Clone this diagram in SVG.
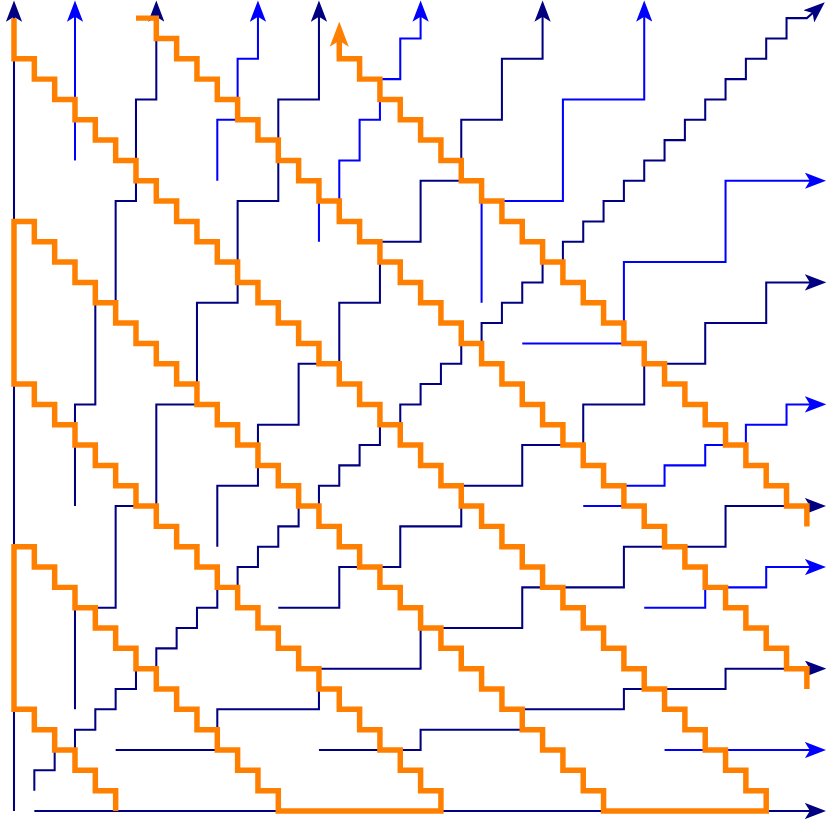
<svg xmlns="http://www.w3.org/2000/svg" width="827" height="824" viewBox="0 0 827 824">
<style>
.n{fill:none;stroke:#000080;stroke-width:0.1}
.b{fill:none;stroke:#0000ff;stroke-width:0.1}
.o{fill:none;stroke:#ff8000;stroke-width:0.27;stroke-linejoin:miter}
.n .a{marker-end:url(#an)}
.b .a{marker-end:url(#ab)}
.o .a{marker-end:url(#ao)}
</style>
<defs>
<marker id="an" viewBox="0 0 21 16" markerWidth="10.5" markerHeight="8" refX="14" refY="8" orient="auto"><path d="M0 0L21 8L0 16L5 8Z" fill="#000080"/></marker>
<marker id="ab" viewBox="0 0 21 16" markerWidth="10.5" markerHeight="8" refX="14" refY="8" orient="auto"><path d="M0 0L21 8L0 16L5 8Z" fill="#0000ff"/></marker>
<marker id="ao" viewBox="0 0 21 16" markerWidth="4.55" markerHeight="3.47" refX="12" refY="8" orient="auto"><path d="M0 0L21 8L0 16L5 8Z" fill="#ff8000"/></marker>
</defs>
<g transform="matrix(20.33 0 0 -20.33 14 811)">
<g id="navy-paths" class="n">
<path class="a" d="M0 0V39.52"/>
<path class="a" d="M1 0H39.6"/>
<path class="a" d="M3 15V20H4V25H5V30H6V35H7V39.52"/>
<path class="a" d="M15 3H20V4H25V5H30V6H35V7H39.6"/>
<path class="a" d="M3 5V10H5V15H7V20H9V25H11V30H13V35H15V39.52"/>
<path class="a" d="M5 3H10V5H15V7H20V9H25V11H30V13H35V15H39.6"/>
<path class="a" d="M10 13V16H12V19H14V22H16V25H18V28H20V31H22V34H24V37H26V39.52"/>
<path class="a" d="M13 10H16V12H19V14H22V16H25V18H28V20H31V22H34V24H37V26H39.6"/>
<path class="a" d="M1 1
v1h1v1h1v1h1v1h1v1h1
v1h1v1h1v1h1v1h1v1h1
v1h1v1h1v1h1v1h1v1h1
v1h1v1h1v1h1v1h1v1h1
v1h1v1h1v1h1v1h1v1h1
v1h1v1h1v1h1v1h1v1h1
v1h1v1h1v1h1v1h1v1h1
v1h1v1h1v1h1
L39.62 39.55"/>
</g>
<g id="blue-paths" class="b">
<path class="a" d="M3 32V39.52"/>
<path class="a" d="M32 3H39.6"/>
<path class="a" d="M10 31V34H11V37H12V39.52"/>
<path class="a" d="M31 10H34V11H37V12H39.6"/>
<path class="a" d="M15 28V30H16V32H17V34H18V36H19V38H20V39.52"/>
<path class="a" d="M28 15H30V16H32V17H34V18H36V19H38V20H39.6"/>
<path class="a" d="M23 25V30H27V35H31V39.52"/>
<path class="a" d="M25 23H30V27H35V31H39.6"/>
</g>
<g id="orange-paths" class="o">
<path d="M0 39V37
h1v-1h1v-1h1v-1h1v-1h1v-1
h1v-1h1v-1h1v-1h1v-1h1v-1
h1v-1h1v-1h1v-1h1v-1h1v-1
h1v-1h1v-1h1v-1h1v-1h1v-1
h1v-1h1v-1h1v-1h1v-1h1v-1
h1v-1h1v-1h1v-1h1v-1h1v-1
h1v-1h1v-1h1v-1h1v-1h1v-1
h1v-1h1v-1
H29
v1h-1v1h-1v1h-1v1h-1v1h-1
v1h-1v1h-1v1h-1v1h-1v1h-1
v1h-1v1h-1v1h-1v1h-1v1h-1
v1h-1v1h-1v1h-1v1h-1v1h-1
v1h-1v1h-1v1h-1v1h-1v1h-1
v1h-1v1h-1v1h-1v1h-1
V21
h1v-1h1v-1h1v-1h1v-1h1v-1
h1v-1h1v-1h1v-1h1v-1h1v-1
h1v-1h1v-1h1v-1h1v-1h1v-1
h1v-1h1v-1h1v-1h1v-1h1v-1
h1v-1
H13
v1h-1v1h-1v1h-1v1h-1v1h-1
v1h-1v1h-1v1h-1v1h-1v1h-1
v1h-1v1h-1v1h-1
V5
h1v-1h1v-1h1v-1h1v-1h1v-1"/>
<path d="M6 39H7
v-1h1v-1h1v-1h1v-1h1v-1h1
v-1h1v-1h1v-1h1v-1h1v-1h1
v-1h1v-1h1v-1h1v-1h1v-1h1
v-1h1v-1h1v-1h1v-1h1v-1h1
v-1h1v-1h1v-1h1v-1h1v-1h1
v-1h1v-1h1v-1h1v-1h1v-1h1
v-1h1v-1h1
v-1"/>
<path class="a" d="M39 14
v1h-1v1h-1v1h-1v1h-1v1h-1
v1h-1v1h-1v1h-1v1h-1v1h-1
v1h-1v1h-1v1h-1v1h-1v1h-1
v1h-1v1h-1v1h-1v1h-1v1h-1
v1h-1v1h-1v1h-1
V38.3"/>
</g>
</g>
</svg>
